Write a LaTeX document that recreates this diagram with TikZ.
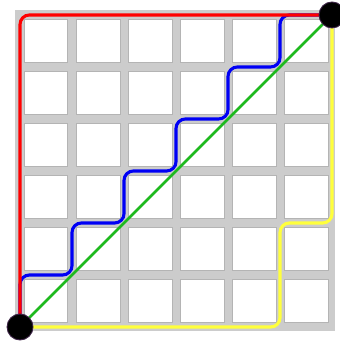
\documentclass[tikz,border=0pt]{standalone}
\usepackage{tikz}
\usetikzlibrary{arrows.meta,calc,positioning}
\definecolor{GridGray}{RGB}{204,204,204}
\definecolor{ShadeGray}{RGB}{180,180,180}
\definecolor{PathRed}{RGB}{255,0,0}
\definecolor{PathBlue}{RGB}{0,0,245}
\definecolor{PathGreen}{RGB}{30,185,30}
\definecolor{PathYellow}{RGB}{255,255,60}
\definecolor{DotRim}{RGB}{60,35,70}
\pgfdeclarelayer{board}
\pgfdeclarelayer{routes}
\pgfsetlayers{board,routes,main}

\begin{document}
\begin{tikzpicture}[x=1.0cm,y=1.0cm,>=Latex,
    cell/.style={fill=white,draw=ShadeGray,line width=0.4pt},
    route/.style={line width=1.7pt,rounded corners=0.18cm},
    corner/.style={circle,fill=black,draw=DotRim,line width=0.5pt,minimum size=0.5cm,inner sep=0pt}]
  \useasboundingbox (-0.385,-0.327) rectangle (6.135,6.288);
  \node[corner] (start) at (0,0) {};
  \node[corner] (goal) at (6,6) {};
  % board with its cells
  \begin{pgfonlayer}{board}
    \fill[GridGray] (-0.09,-0.08) rectangle (6.05,6.09);
    \foreach \i in {0,...,5}{
      \foreach \j in {0,...,5}{
        \filldraw[cell] (\i+0.08,\j+0.08) rectangle (\i+0.92,\j+0.92);
      }
    }
  \end{pgfonlayer}
  % the four routes
  \begin{pgfonlayer}{routes}
    \draw[route,PathBlue] (start.center) -- ++(0,1) -- ++(1,0) -- ++(0,1) -- ++(1,0)
      -- ++(0,1) -- ++(1,0) -- ++(0,1) -- ++(1,0) -- ++(0,1) -- ++(1,0)
      -- ++(0,1) -- (goal.center);
    \draw[route,PathRed] (start.center) |- (goal.center);
    \draw[route,PathYellow] (start.center) -- (5,0) -- (5,2) -- (6,2) -- (goal.center);
    \draw[PathGreen,line width=1.4pt] (start.center) -- (goal.center);
  \end{pgfonlayer}
\end{tikzpicture}
\end{document}
